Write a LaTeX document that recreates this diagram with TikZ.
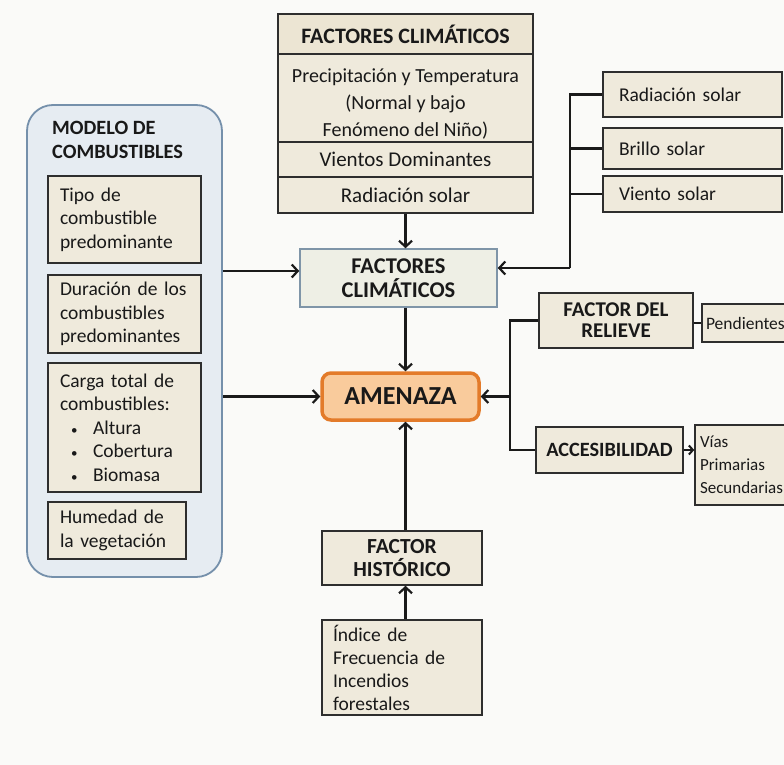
\documentclass[tikz,border=0pt]{standalone}
\usepackage{fontspec}
\setmainfont{Carlito}
\usetikzlibrary{arrows.meta,calc}
\definecolor{bgc}{HTML}{FAFAF8}
\definecolor{beige}{HTML}{EFEADC}
\definecolor{hdrc}{HTML}{ECE5D3}
\definecolor{boxd}{HTML}{2E2E2E}
\definecolor{midf}{HTML}{EEEFE5}
\definecolor{midd}{HTML}{7F95A8}
\definecolor{panelf}{HTML}{E6ECF2}
\definecolor{paneld}{HTML}{7590AB}
\definecolor{amenf}{HTML}{F9CB9C}
\definecolor{amend}{HTML}{E37B2A}
\definecolor{linec}{HTML}{1A1A1A}
\newcommand{\bul}{\hspace*{11pt}\makebox[22pt][l]{\fontsize{13}{13}\selectfont •}}
\begin{document}
\begin{tikzpicture}[x=1pt,y=-1pt,
  every node/.style={font=\fontsize{19.5}{23.5}\selectfont, inner sep=0pt, text=black!90},
  box/.style={draw=boxd, line width=1.5pt, fill=beige, rectangle},
  sz/.style 2 args={minimum width=#1pt, minimum height=#2pt},
  bf/.style 2 args={font=\fontsize{#1}{#2}\selectfont\bfseries},
  rg/.style 2 args={font=\fontsize{#1}{#2}\selectfont},
  conn/.style={draw=linec, line width=2.2pt},
  arr/.style={conn, -{Straight Barb[length=6pt,width=13pt]}},
  ]
\fill[bgc] (0,0) rectangle (784,765);
\useasboundingbox (0,0) rectangle (784,765);

% top composite box
\node[box, fill=hdrc, sz={255}{40}, bf={22}{26}] (hdr) at (405.5,34) {FACTORES CLIMÁTICOS};
\node[box, sz={255}{88}] (precip) at (405.5,98) {};
\node[align=center, rg={20}{27}] (precipT) at (405.5,104) {Precipitación y Temperatura\\(Normal y bajo\\Fenómeno del Niño)};
\node[box, sz={255}{35}, rg={21}{25}] (vientos) at (405.5,159.5) {Vientos Dominantes};
\node[box, sz={255}{36}, rg={21}{25}] (rad) at (405.5,195) {Radiación solar};

% middle box
\node[box, fill=midf, draw=midd, sz={197}{58}, align=center, bf={22.5}{24}] (mid) at (398.5,278) {FACTORES\\CLIMÁTICOS};

% amenaza
\node[draw=amend, fill=amenf, line width=3.5pt, rounded corners=9pt, sz={157}{47}, bf={26}{30}] (amen) at (400.5,396.5) {AMENAZA};

% left panel
\node[draw=paneld, fill=panelf, line width=1.8pt, rounded corners=26pt, sz={195}{472}] (panel) at (124.5,341) {};
\node[anchor=west, align=left, bf={20.3}{24}] (panelT) at (52,140) {MODELO DE\\COMBUSTIBLES};
\node[box, sz={153}{87}, text width=129pt, align=left] (b1) at (124.5,219.5) {Tipo de\\combustible\\predominante};
\node[box, sz={153}{78}, text width=129pt, align=left] (b2) at (124.5,314) {Duración de los\\combustibles\\predominantes};
\node[box, sz={153}{129}, text width=129pt, align=left] (b3) at (124.5,427.5) {Carga total de\\combustibles:\\\bul Altura\\\bul Cobertura\\\bul Biomasa};
\node[box, sz={138}{57}, text width=114pt, align=left] (b4) at (117,530.5) {Humedad de\\la vegetación};

% right solar boxes
\node[box, sz={179}{45}, text width=147pt, align=left] (radS) at (692.5,94.5) {Radiación solar};
\node[box, sz={179}{41}, text width=147pt, align=left] (brillo) at (692.5,148.5) {Brillo solar};
\node[box, sz={179}{36}, text width=147pt, align=left] (viento) at (692.5,194) {Viento solar};

% relieve / accesibilidad
\node[box, sz={154}{55}, align=center, bf={21}{21}] (relieve) at (616,320.5) {FACTOR DEL\\RELIEVE};
\node[box, sz={118}{38}, text width=110pt, align=left, rg={17.5}{21}] (pend) at (761,323) {Pendientes};
\node[box, sz={147}{46}, bf={20.3}{24}] (acc) at (609.5,450) {ACCESIBILIDAD};
\node[box, sz={125}{80}, text width=115pt, align=left, rg={17}{23}] (vias) at (757.5,465) {Vías\\Primarias\\Secundarias};

% historico
\node[box, sz={160}{54}, align=center, bf={21.5}{22.5}] (hist) at (402,558) {FACTOR\\HISTÓRICO};
\node[box, sz={160}{95}, text width=138pt, align=left, rg={19.5}{23}] (ind) at (402,667.5) {Índice de\\Frecuencia de\\Incendios\\forestales};

% coordinates
\coordinate (midL) at ([yshift=7pt]mid.west);
\coordinate (solX) at (570,268);
\coordinate (brX) at (510,400);

% connectors
\draw[arr] (rad.south) -- (rad.south |- mid.north);
\draw[arr] (mid.south -| rad.south) -- (amen.north -| rad.south);
\draw[arr] (hist.north -| rad.south) -- (amen.south -| rad.south);
\draw[arr] (ind.north -| rad.south) -- (hist.south -| rad.south);
\draw[arr] (panel.east |- midL) -- (midL);
\draw[arr] (panel.east |- amen.west) -- (amen.west);
\draw[conn] (radS.west) -| (solX);
\draw[conn] (brillo.west) -- (brillo.west -| solX);
\draw[conn] (viento.west) -- (viento.west -| solX);
\draw[arr] (solX) -- (solX -| mid.east);
\draw[conn] (relieve.west) -| (brX |- acc.west) -- (acc.west);
\draw[arr] (brX |- amen.east) -- (amen.east);
\draw[conn, line width=2pt] (relieve.east |- pend.west) -- (pend.west);
\draw[conn, line width=2pt, -{Straight Barb[length=4pt,width=9pt]}] (acc.east) -- (acc.east -| vias.west);
\end{tikzpicture}
\end{document}
